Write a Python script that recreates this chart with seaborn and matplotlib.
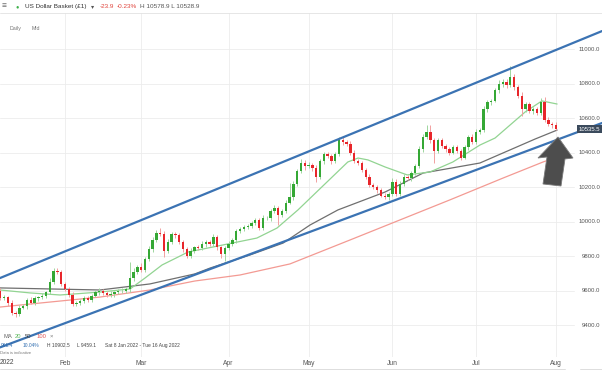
# ==================== IMPORTS ====================
import numpy as np
import pandas as pd
import matplotlib
matplotlib.use("Agg")
import matplotlib.pyplot as plt
from matplotlib.patches import Polygon
import seaborn as sns

# ==================== DATA ====================
# daily closes, one value per weekday, Jan 3 2022 .. Aug 1 2022
close_jan = [9600, 9605, 9595, 9600, 9555, 9560, 9525, 9470, 9465, 9500, 9510, 9545, 9530, 9555, 9560, 9570, 9590, 9650, 9715, 9705, 9640]
close_feb = [9610, 9575, 9520, 9530, 9540, 9555, 9545, 9570, 9590, 9600, 9585, 9575, 9580, 9590, 9595, 9600, 9610, 9670, 9710, 9735]
close_mar = [9720, 9780, 9840, 9895, 9935, 9930, 9830, 9880, 9925, 9920, 9880, 9840, 9800, 9830, 9850, 9845, 9870, 9880, 9870, 9910, 9850, 9810, 9845]
close_apr = [9870, 9890, 9945, 9955, 9970, 9975, 9990, 10010, 9965, 10020, 10020, 10060, 10080, 10040, 10060, 10110, 10140, 10220, 10290, 10340, 10320]
close_may = [10330, 10310, 10260, 10350, 10390, 10380, 10350, 10390, 10470, 10460, 10450, 10400, 10350, 10340, 10300, 10260, 10210, 10200, 10180, 10150, 10140, 10160]
close_jun = [10230, 10160, 10220, 10260, 10250, 10280, 10320, 10420, 10490, 10520, 10470, 10410, 10470, 10440, 10420, 10400, 10430, 10410, 10370, 10430, 10490, 10460]
close_jul = [10520, 10530, 10650, 10690, 10700, 10760, 10800, 10810, 10790, 10840, 10780, 10730, 10650, 10680, 10640, 10650, 10630, 10690, 10590, 10565, 10559.4]
close_aug = [10535.5]
first_open = 9590

# wick length above / below the body
up_jan = [12, 10, 15, 10, 12, 15, 10, 18, 10, 15, 12, 10, 15, 12, 10, 15, 10, 20, 18, 15, 12]
dn_jan = [10, 12, 10, 15, 10, 12, 15, 10, 18, 12, 10, 15, 10, 12, 15, 10, 12, 10, 15, 12, 15]
up_feb = [12, 10, 15, 12, 10, 15, 12, 10, 15, 12, 10, 12, 15, 10, 12, 15, 10, 95, 20, 15]
dn_feb = [15, 10, 12, 10, 15, 12, 10, 12, 10, 15, 12, 10, 12, 15, 10, 12, 15, 20, 15, 12]
up_mar = [25, 15, 20, 18, 15, 25, 15, 20, 15, 12, 15, 10, 12, 15, 10, 12, 15, 10, 12, 15, 12, 10, 15]
dn_mar = [15, 12, 10, 15, 12, 15, 35, 12, 10, 15, 12, 15, 10, 12, 15, 10, 12, 15, 12, 10, 15, 20, 40]
up_apr = [15, 12, 10, 15, 12, 10, 15, 12, 10, 15, 12, 10, 15, 12, 10, 15, 85, 12, 15, 20, 15]
dn_apr = [12, 10, 15, 12, 10, 15, 12, 10, 15, 12, 10, 15, 12, 60, 15, 12, 10, 15, 12, 10, 20]
up_may = [15, 12, 20, 15, 12, 15, 12, 15, 20, 18, 12, 15, 12, 15, 12, 10, 15, 12, 10, 12, 15, 10]
dn_may = [12, 15, 30, 12, 15, 12, 15, 12, 10, 15, 12, 15, 12, 15, 12, 15, 10, 12, 15, 10, 12, 15]
up_jun = [20, 15, 12, 15, 12, 10, 15, 20, 15, 40, 40, 15, 12, 15, 12, 10, 15, 12, 10, 15, 12, 15]
dn_jun = [15, 12, 15, 12, 10, 15, 12, 10, 15, 12, 15, 70, 15, 12, 15, 12, 10, 15, 12, 10, 15, 12]
up_jul = [15, 12, 20, 15, 12, 15, 20, 15, 18, 62, 15, 12, 20, 15, 12, 15, 12, 25, 30, 15, 12]
dn_jul = [12, 15, 12, 15, 12, 10, 15, 20, 15, 12, 15, 12, 40, 15, 12, 15, 12, 15, 12, 10, 15]
up_aug = [20]
dn_aug = [7]

# moving averages (bar index, value)
ma20_idx = [3.9, 11.8, 19.7, 30.2, 38.1, 42.0, 46.5, 50.7, 53.3, 62.5, 71.4, 76.7, 82.2, 95.3, 98.0, 100.6, 105.1, 110.9, 116.9, 122.9, 130.0, 134.0, 141.9, 146.3, 150.3]
ma20_val = [9603, 9586, 9574, 9591, 9609, 9672, 9748, 9794, 9823, 9864, 9904, 9962, 10067, 10345, 10368, 10357, 10316, 10270, 10287, 10345, 10443, 10484, 10635, 10699, 10681]
ma50_idx = [3.9, 17.0, 30.2, 43.3, 55.1, 59.1, 69.6, 78.3, 85.4, 92.7, 105.1, 115.1, 130.0, 144.5, 150.3]
ma50_val = [9615, 9609, 9603, 9638, 9696, 9730, 9806, 9875, 9980, 10067, 10171, 10281, 10339, 10478, 10530]
ma100_idx = [3.9, 17.0, 30.2, 43.3, 55.1, 67.0, 80.1, 95.9, 109.0, 122.1, 136.1, 146.6, 150.3]
ma100_val = [9504, 9533, 9562, 9603, 9655, 9690, 9754, 9893, 10009, 10125, 10252, 10345, 10374]

# channel lines (bar index, value)
upper_idx = [3.9, 162.1]
upper_val = [9672, 11104]
lower_idx = [3.9, 162.1]
lower_val = [9270, 10571]

month_labels = ["Feb", "Mar", "Apr", "May", "Jun", "Jul", "Aug"]
month_start = [21, 41, 64, 85, 107, 129, 150]
price_ticks = [9400, 9600, 9800, 10000, 10200, 10400, 10600, 10800, 11000]
last_price = 10535.5

# ==================== PREP ====================
closes = np.array(close_jan + close_feb + close_mar + close_apr + close_may + close_jun + close_jul + close_aug, dtype=float)
opens = np.concatenate([[first_open], closes[:-1]])
wick_up = np.array(up_jan + up_feb + up_mar + up_apr + up_may + up_jun + up_jul + up_aug)
wick_dn = np.array(dn_jan + dn_feb + dn_mar + dn_apr + dn_may + dn_jun + dn_jul + dn_aug)
bars = np.arange(len(closes))
highs = np.maximum(opens, closes) + wick_up
lows = np.minimum(opens, closes) - wick_dn
rising = closes >= opens

W, H = 602, 370
def fx(x): return x / W
def fy(y): return 1 - y / H

# ==================== STYLE ====================
sns.set_theme(style="white")
plt.rcParams['font.family'] = ['Liberation Sans', 'DejaVu Sans']
green, red = "#35a835", "#e8262b"
green_w, red_w = "#9ed69e", "#f2a0a0"

fig = plt.figure(figsize=(W / 100, H / 100), dpi=100, facecolor="white")
ax = fig.add_axes([0, fy(357), 1, (357 - 13) / H])
ax.set_xlim(3.92, 162.09)
ax.set_ylim(9214.5, 11208.7)
for s in ax.spines.values():
    s.set_visible(False)
ax.set_yticks([])

# grid
for v in price_ticks:
    ax.axhline(v, xmin=0, xmax=574 / W, color="#ececec", lw=0.6, zorder=0)
for m in month_start:
    ax.axvline(m, color="#ececec", lw=0.6, zorder=0)

# ==================== MOVING AVERAGES ====================
sns.lineplot(x=ma100_idx, y=ma100_val, color="#f39a93", lw=0.9, ax=ax, zorder=1)
sns.lineplot(x=ma50_idx, y=ma50_val, color="#6f6f6f", lw=0.9, ax=ax, zorder=1)
sns.lineplot(x=ma20_idx, y=ma20_val, color="#92d492", lw=0.9, ax=ax, zorder=1)

# ==================== CANDLES ====================
ax.vlines(bars, lows, highs, colors=np.where(rising, green_w, red_w), lw=0.7, zorder=2)
body = np.maximum(np.abs(closes - opens), 3)
ax.bar(bars, body, bottom=np.minimum(opens, closes), width=0.62,
       color=np.where(rising, green, red), linewidth=0, zorder=3)

# ==================== CHANNEL ====================
sns.lineplot(x=upper_idx, y=upper_val, color="#3b73b3", lw=1.6, ax=ax, zorder=4)
sns.lineplot(x=lower_idx, y=lower_val, color="#3b73b3", lw=1.6, ax=ax, zorder=4)

# ==================== AXES TEXT ====================
ax.set_xticks(month_start)
ax.set_xticklabels(month_labels)
ax.tick_params(axis="x", length=0, pad=2, labelsize=4.8, labelcolor="#555555")
ax.set_xlabel("")
ax.set_ylabel("")
ax.text(0, -0.005, "2022", transform=ax.transAxes, ha="left", va="top", fontsize=4.8, color="#444444")

ytr = ax.get_yaxis_transform()
for v in price_ticks:
    ax.text(0.997, v, f"{v:.1f}", transform=ytr, ha="right", va="center", fontsize=4.3, color="#555555")
ax.text(0.997, last_price, f"{last_price:.1f}", transform=ytr, ha="right", va="center", fontsize=4.3,
        color="white", zorder=6, bbox=dict(boxstyle="square,pad=0.3", fc="#3b4a5c", ec="none"))

# ==================== ARROW ====================
arrow_px = [(558, 137), (573, 158), (565, 159), (561, 186), (543, 184), (547, 157), (538, 158)]
arrow = Polygon([(fx(x), fy(y)) for x, y in arrow_px], closed=True, transform=fig.transFigure,
                fc="#4d4d4d", ec="#7a7a7a", lw=0.6, zorder=10)
fig.patches.append(arrow)

# ==================== HEADER ====================
fig.add_artist(plt.Line2D([0, 1], [fy(13), fy(13)], color="#e2e2e2", lw=0.6))
fig.text(fx(2), fy(6.5), "≡", fontsize=6, color="#666666", va="center")
fig.text(fx(15.5), fy(6.5), "●", fontsize=4, color="#3db04a", va="center")
fig.text(fx(25), fy(6.5), "US Dollar Basket (£1)", fontsize=4.6, color="#333333", va="center")
fig.text(fx(91), fy(6.5), "▾", fontsize=4.5, color="#555555", va="center")
fig.text(fx(100), fy(6.5), "-23.9", fontsize=4.6, color="#e0433b", va="center")
fig.text(fx(117), fy(6.5), "-0.23%", fontsize=4.6, color="#e0433b", va="center")
fig.text(fx(140), fy(6.5), "H 10578.9 L 10528.9", fontsize=4.6, color="#555555", va="center")
fig.text(fx(10), fy(28.5), "Daily", fontsize=3.8, color="#777777", va="center")
fig.text(fx(32), fy(28.5), "Mid", fontsize=3.8, color="#777777", va="center")

# ==================== FOOTER ====================
fig.text(fx(3), fy(336), "MA", fontsize=4.2, color="#666666", va="center")
fig.text(fx(15), fy(336), "20", fontsize=4.2, color="#5cb85c", va="center")
fig.text(fx(25), fy(336), "50", fontsize=4.2, color="#444444", va="center")
fig.text(fx(37), fy(336), "100", fontsize=4.2, color="#e05555", va="center")
fig.text(fx(50), fy(336), "×", fontsize=4.2, color="#777777", va="center")
fig.text(fx(13), fy(345.5), "961.4", fontsize=3.5, color="#2f6db0", va="center", ha="right")
fig.text(fx(23), fy(345.5), "10.04%", fontsize=3.5, color="#2f6db0", va="center")
fig.text(fx(47), fy(345.5), "H 10902.5", fontsize=3.5, color="#444444", va="center")
fig.text(fx(77), fy(345.5), "L 9459.1", fontsize=3.5, color="#444444", va="center")
fig.text(fx(105), fy(345.5), "Sat 8 Jan 2022 - Tue 16 Aug 2022", fontsize=3.5, color="#444444", va="center")
fig.text(fx(0), fy(353.5), "Data is indicative", fontsize=3, color="#777777", va="center")
fig.add_artist(plt.Line2D([0, fx(565)], [fy(368.5), fy(368.5)], color="#d8d8d8", lw=0.6))
fig.add_artist(plt.Line2D([fx(580), 1], [fy(368.5), fy(368.5)], color="#d8d8d8", lw=0.6))

fig.savefig("out.png", dpi=100, facecolor="white")
